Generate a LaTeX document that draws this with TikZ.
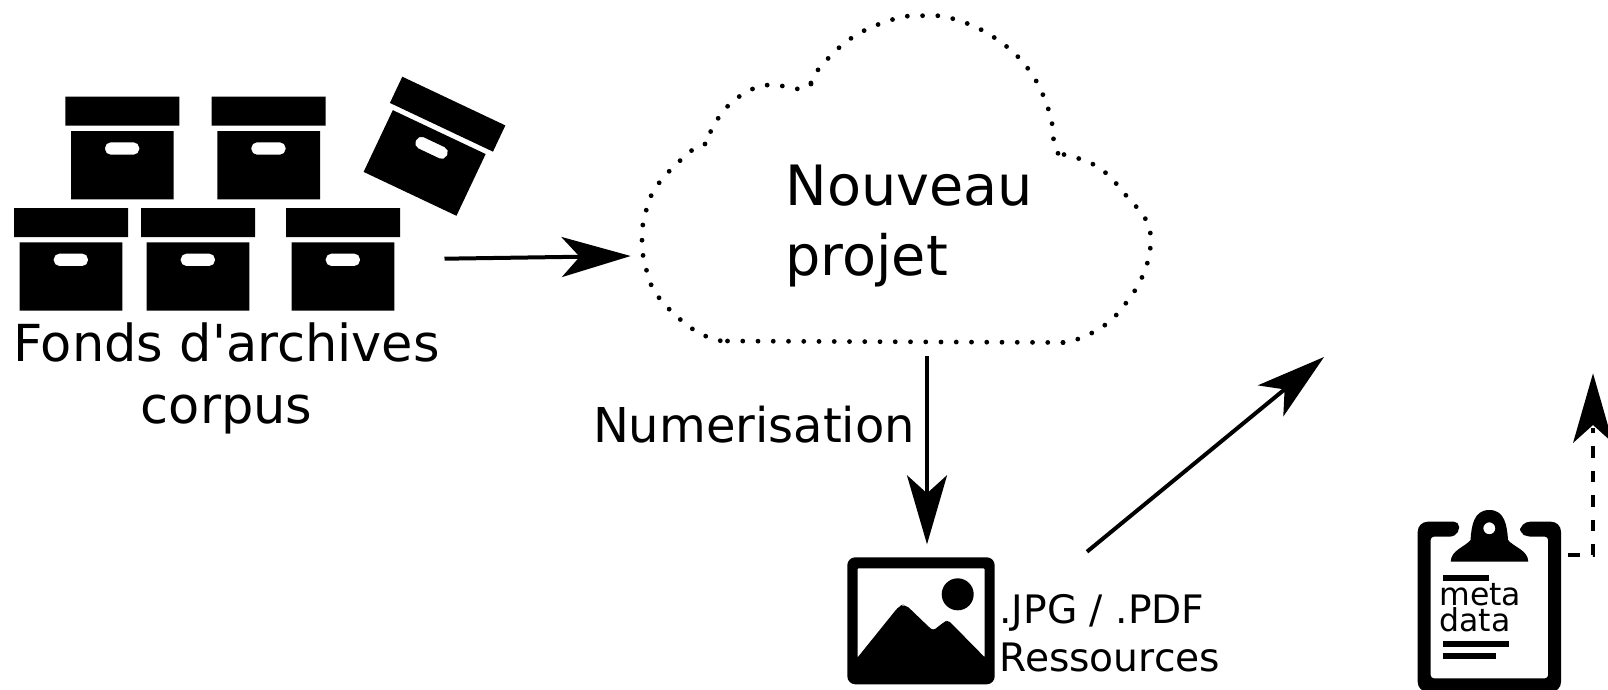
\documentclass[tikz,border=0pt]{standalone}
\usepackage{fontspec}
\setmainfont{DejaVu Sans}
\usetikzlibrary{arrows.meta}
\tikzset{
  x=1pt,y=-1pt,
  lbl/.style={inner sep=0pt,outer sep=0pt,text=black},
  conn/.style={line width=4pt,-{Stealth[length=69pt,width=40pt,inset=18pt]}},
  dotline/.style={line width=4.8pt,line cap=round,dash pattern=on 0pt off 15.25pt},
  pics/archive/.style={code={
    \fill[even odd rule] (0,0) rectangle (114,29)
      (5.7,34.3) rectangle (108.4,102.6)
      [rounded corners=5.5pt] (39.7,45.6) rectangle (74,58);
  }}
}
\begin{document}
\begin{tikzpicture}
\useasboundingbox (0,0) rectangle (1608,689);
\clip (0,0) rectangle (1608,689);
% archive boxes
\pic at (65.3,96.7) {archive};
\pic at (211.6,96.7) {archive};
\pic at (14,208) {archive};
\pic at (141,208) {archive};
\pic at (286,208) {archive};
\pic[rotate=-25.3] at (402.3,76.7) {archive};
\node[lbl,font=\fontsize{51}{60}\selectfont,anchor=base] (fonds) at (226.6,361) {Fonds d\textquotesingle archives};
\node[lbl,font=\fontsize{51}{60}\selectfont,anchor=base] (corpus) at (226.6,423.6) {corpus};
% cloud
\draw[dotline] (1063,342.5) -- (724,341);
\draw[dotline] plot[smooth,tension=0.7] coordinates {(1063,342.5) (1078,339) (1105,325) (1126,303) (1143,275) (1150.6,244) (1146,220) (1130,200) (1098,167) (1058,153.3)};
\draw[dotline] plot[smooth,tension=0.7] coordinates {(1058,153.3) (1054,142) (1049,111) (1029,70) (995,38) (954,19) (921,15.7) (891,20) (850,39) (817,71) (811,84)};
\draw[dotline] plot[smooth,tension=0.7] coordinates {(811,84) (800,89) (768,85) (740,96) (719,117) (705,144)};
\draw[dotline] plot[smooth,tension=0.7] coordinates {(705,144) (691,151) (659,183) (646,211) (642,241) (647,272) (660,299) (694,330) (721.7,341)};
\node[lbl,font=\fontsize{55.6}{60}\selectfont,anchor=base west] (nouveau) at (785.5,205.7) {Nouveau};
\node[lbl,font=\fontsize{55.6}{60}\selectfont,anchor=base west] (projet) at (785.5,275) {projet};
% connector ends
\coordinate (a1s) at (444.5,258.7);
\coordinate (a1e) at (630.7,256);
\coordinate (a2s) at (927,356);
\coordinate (a2e) at (927,544.3);
\coordinate (a3s) at (1087,551.7);
\coordinate (a3e) at (1324,357);
\coordinate (a4s) at (1568,555);
\coordinate (a4c) at (1593,555);
\coordinate (a4e) at (1593,373.3);
\draw[conn] (a1s) -- (a1e);
\draw[conn] (a2s) -- (a2e);
\draw[conn] (a3s) -- (a3e);
\draw[line width=4.5pt,dash pattern=on 11.5pt off 13pt] (a4s) -- (a4c) -- ([yshift=-55pt]a4e);
\fill (a4e) -- (1613,443) -- (1593,425) -- (1573,443) -- cycle;
\node[lbl,font=\fontsize{48}{60}\selectfont,anchor=base west] (numer) at (593,442) {Numerisation};
% image icon
\fill[even odd rule,rounded corners=8pt] (847.3,557.3) rectangle (994.7,684.3)
  [rounded corners=1pt] (857.7,568.3) -- (984.7,568.3) -- (984.7,657.3)
  -- (950.5,622.5) [rounded corners=3pt] -- (947.7,620.2) -- (944,622) -- (933.3,630.5) -- (930,628)
  [rounded corners=5pt] -- (905,604) -- (899,606) [rounded corners=0.5pt] -- (857.7,657.3) -- cycle;
\fill (957.7,594.3) circle (16);
\node[lbl,font=\fontsize{39.2}{45}\selectfont,anchor=base west] (jpg) at (999.5,623) {.JPG / .PDF};
\node[lbl,font=\fontsize{39.2}{45}\selectfont,anchor=base west] (res) at (999.5,671.7) {Ressources};
% clipboard
\fill[even odd rule,rounded corners=10pt] (1459,521.7) -- (1417.7,521.7) -- (1417.7,692) -- (1561,692) -- (1561,521.7) -- (1520,521.7)
  [rounded corners=5pt] -- (1520,533) -- (1527,536.7) [rounded corners=3pt] -- (1548,536.7) -- (1548,678.3) -- (1430.7,678.3) -- (1430.7,536.7) -- (1452,536.7) [rounded corners=5pt] -- (1459,533) -- cycle;
\fill[even odd rule] (1450.7,561.7) .. controls (1451,550) and (1465,547) .. (1470.5,540)
  .. controls (1471.5,525) and (1474,510) .. (1489.3,510)
  .. controls (1504.6,510) and (1507,525) .. (1508,540)
  .. controls (1513.5,547) and (1528,550) .. (1528.3,561.7) -- cycle
  (1489.3,528.3) circle (6);
\fill (1443.3,575) rectangle (1489.3,580.7);
\fill (1443.3,641) rectangle (1509,647.3);
\fill (1443.3,652.7) rectangle (1496,659.3);
\node[lbl,font=\fontsize{31.5}{30}\selectfont,anchor=base west] (meta) at (1439.5,605.7) {meta};
\node[lbl,font=\fontsize{31.5}{30}\selectfont,anchor=base west] (data) at (1439.5,631) {data};
\end{tikzpicture}
\end{document}
